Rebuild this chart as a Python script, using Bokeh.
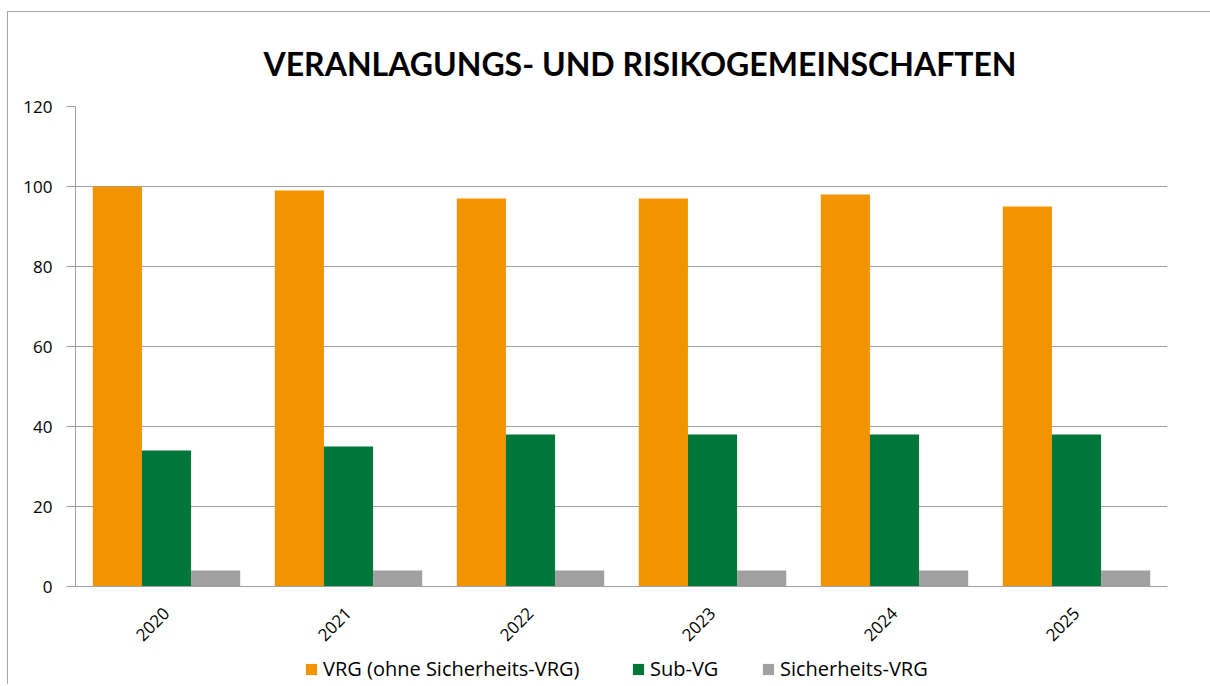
from bokeh.plotting import figure
from bokeh.layouts import column
from bokeh.models import FactorRange, Range1d, Legend, LegendItem, ColumnDataSource, FixedTicker
from bokeh.transform import dodge
from bokeh.embed import file_html
from bokeh.resources import INLINE
import math

years = ["2020", "2021", "2022", "2023", "2024", "2025"]
vrg = [100, 99, 97, 97, 98, 95]
sub_vg = [34, 35, 38, 38, 38, 38]
sicher = [4, 4, 4, 4, 4, 4]
series_names = ["VRG (ohne Sicherheits-VRG)", "Sub-VG", "Sicherheits-VRG"]
y_ticks = [0, 20, 40, 60, 80, 100, 120]

colors = ["#F29400", "#00773A", "#A0A0A0"]
TITLE_FONT = "Lato"
FONT = "Open Sans"

src = ColumnDataSource(dict(year=years, vrg=vrg, sub=sub_vg, sich=sicher))

p = figure(width=1202, height=644, x_range=FactorRange(*years, range_padding=0),
           y_range=Range1d(0, 120), output_backend="svg", toolbar_location=None,
           min_border_left=67, min_border_right=43, min_border_top=94, min_border_bottom=70)

w = 0.27
r1 = p.vbar(x=dodge("year", -w, range=p.x_range), top="vrg", width=w, source=src,
            fill_color=colors[0], line_color=None)
r2 = p.vbar(x=dodge("year", 0, range=p.x_range), top="sub", width=w, source=src,
            fill_color=colors[1], line_color=None)
r3 = p.vbar(x=dodge("year", w, range=p.x_range), top="sich", width=w, source=src,
            fill_color=colors[2], line_color=None)

p.title.text = "VERANLAGUNGS- UND RISIKOGEMEINSCHAFTEN"
p.title.text_font = TITLE_FONT
p.title.text_font_size = "32px"
p.title.text_font_style = "bold"
p.title.text_color = "#000000"
p.title.align = "left"
p.title.offset = 188
p.title.standoff = 48

p.outline_line_color = None
p.xgrid.grid_line_color = None
p.ygrid.grid_line_color = "#A0A0A0"
p.ygrid.grid_line_width = 1
p.yaxis.ticker = FixedTicker(ticks=y_ticks)
p.yaxis.minor_tick_line_color = None
p.yaxis.major_tick_out = 9
p.yaxis.major_tick_in = 0
p.yaxis.axis_line_color = "#A0A0A0"
p.yaxis.major_tick_line_color = "#A0A0A0"
p.yaxis.major_label_text_font = FONT
p.yaxis.major_label_text_font_size = "17px"
p.yaxis.major_label_text_color = "#000000"
p.yaxis.major_label_standoff = 14

p.xaxis.major_tick_line_color = None
p.xaxis.minor_tick_line_color = None
p.xaxis.axis_line_color = "#A0A0A0"
p.xaxis.axis_line_width = 1
p.xaxis.major_label_orientation = math.pi / 4
p.xaxis.major_label_text_font = FONT
p.xaxis.major_label_text_font_size = "17px"
p.xaxis.major_label_text_color = "#000000"
p.xaxis.major_label_standoff = 18

# legend strip below the chart
lf = figure(width=1202, height=28, x_range=Range1d(0, 1), y_range=Range1d(0, 1),
            output_backend="svg", toolbar_location=None,
            min_border_left=0, min_border_right=0, min_border_top=0, min_border_bottom=0,
            x_axis_location=None, y_axis_location=None)
lf.outline_line_color = None
lf.grid.grid_line_color = None
dummy = ColumnDataSource(dict(x=[-5], top=[-5]))
legend_renderers = [lf.vbar(x="x", top="top", width=0.1, source=dummy,
                            fill_color=c, line_color=None) for c in colors]

legend_x = [229, 556, 686]
for name, rr, lx in zip(series_names, legend_renderers, legend_x):
    lg = Legend(items=[LegendItem(label=name, renderers=[rr])],
                orientation="horizontal", location=(lx, 2),
                glyph_width=14, glyph_height=14, label_standoff=5,
                label_height=20, padding=0, margin=0, border_line_color=None,
                label_text_font=FONT, label_text_font_size="20px",
                label_text_color="#000000", background_fill_alpha=0)
    lf.add_layout(lg, "center")

layout = column(p, lf, spacing=0,
                styles={"border-left": "1px solid #A6A6A6", "border-top": "1px solid #A6A6A6",
                        "margin-left": "7px", "margin-top": "11px"})

open("out.html", "w").write(file_html(layout, INLINE))
